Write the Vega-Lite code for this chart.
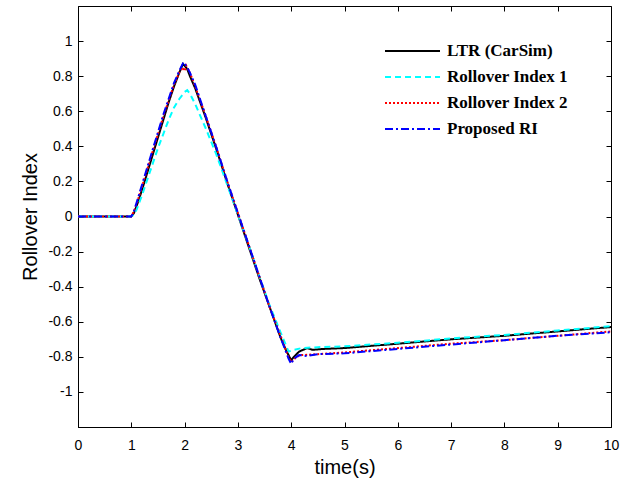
{
  "$schema": "https://vega.github.io/schema/vega-lite/v6.json",
  "autosize": "none",
  "width": 533,
  "height": 421,
  "padding": {"left": 78, "top": 6, "right": 11, "bottom": 55},
  "config": {
    "view": {"stroke": "black", "strokeWidth": 1},
    "axis": {"grid": false, "domainColor": "black", "tickColor": "black", "labelColor": "black", "titleColor": "black", "labelFont": "Liberation Sans", "titleFont": "Liberation Sans", "labelFontSize": 14, "titleFontSize": 20, "titleFontWeight": "normal", "tickSize": -5, "labelFlush": false}
  },
  "data": {"values": [
    {"s":"LTR (CarSim)","t":0,"v":0},{"s":"LTR (CarSim)","t":0.5,"v":0},{"s":"LTR (CarSim)","t":1.0,"v":0},{"s":"LTR (CarSim)","t":1.05,"v":0.02},{"s":"LTR (CarSim)","t":1.1,"v":0.06},{"s":"LTR (CarSim)","t":1.2,"v":0.15},{"s":"LTR (CarSim)","t":1.3,"v":0.25},{"s":"LTR (CarSim)","t":1.4,"v":0.35},{"s":"LTR (CarSim)","t":1.5,"v":0.45},{"s":"LTR (CarSim)","t":1.6,"v":0.55},{"s":"LTR (CarSim)","t":1.7,"v":0.65},{"s":"LTR (CarSim)","t":1.8,"v":0.74},{"s":"LTR (CarSim)","t":1.9,"v":0.82},{"s":"LTR (CarSim)","t":1.97,"v":0.87},{"s":"LTR (CarSim)","t":2.0,"v":0.86},{"s":"LTR (CarSim)","t":2.05,"v":0.84},{"s":"LTR (CarSim)","t":2.1,"v":0.8},{"s":"LTR (CarSim)","t":2.2,"v":0.73},{"s":"LTR (CarSim)","t":2.4,"v":0.56},{"s":"LTR (CarSim)","t":2.6,"v":0.38},{"s":"LTR (CarSim)","t":2.8,"v":0.19},{"s":"LTR (CarSim)","t":3.0,"v":0.01},{"s":"LTR (CarSim)","t":3.2,"v":-0.17},{"s":"LTR (CarSim)","t":3.4,"v":-0.35},{"s":"LTR (CarSim)","t":3.6,"v":-0.52},{"s":"LTR (CarSim)","t":3.8,"v":-0.69},{"s":"LTR (CarSim)","t":3.9,"v":-0.76},{"s":"LTR (CarSim)","t":4.0,"v":-0.82},{"s":"LTR (CarSim)","t":4.05,"v":-0.8},{"s":"LTR (CarSim)","t":4.15,"v":-0.77},{"s":"LTR (CarSim)","t":4.3,"v":-0.75},{"s":"LTR (CarSim)","t":4.4,"v":-0.76},{"s":"LTR (CarSim)","t":4.6,"v":-0.755},{"s":"LTR (CarSim)","t":5.0,"v":-0.75},{"s":"LTR (CarSim)","t":6.0,"v":-0.725},{"s":"LTR (CarSim)","t":7.0,"v":-0.7},{"s":"LTR (CarSim)","t":8.0,"v":-0.68},{"s":"LTR (CarSim)","t":9.0,"v":-0.655},{"s":"LTR (CarSim)","t":10.0,"v":-0.63},
    {"s":"Rollover Index 1","t":0,"v":0},{"s":"Rollover Index 1","t":1.0,"v":0},{"s":"Rollover Index 1","t":1.05,"v":0.01},{"s":"Rollover Index 1","t":1.1,"v":0.04},{"s":"Rollover Index 1","t":1.2,"v":0.12},{"s":"Rollover Index 1","t":1.3,"v":0.21},{"s":"Rollover Index 1","t":1.4,"v":0.3},{"s":"Rollover Index 1","t":1.5,"v":0.39},{"s":"Rollover Index 1","t":1.6,"v":0.47},{"s":"Rollover Index 1","t":1.7,"v":0.55},{"s":"Rollover Index 1","t":1.8,"v":0.62},{"s":"Rollover Index 1","t":1.9,"v":0.67},{"s":"Rollover Index 1","t":2.0,"v":0.71},{"s":"Rollover Index 1","t":2.05,"v":0.72},{"s":"Rollover Index 1","t":2.1,"v":0.7},{"s":"Rollover Index 1","t":2.2,"v":0.64},{"s":"Rollover Index 1","t":2.4,"v":0.5},{"s":"Rollover Index 1","t":2.6,"v":0.35},{"s":"Rollover Index 1","t":2.8,"v":0.18},{"s":"Rollover Index 1","t":3.0,"v":0.01},{"s":"Rollover Index 1","t":3.2,"v":-0.16},{"s":"Rollover Index 1","t":3.4,"v":-0.34},{"s":"Rollover Index 1","t":3.6,"v":-0.51},{"s":"Rollover Index 1","t":3.8,"v":-0.66},{"s":"Rollover Index 1","t":3.95,"v":-0.77},{"s":"Rollover Index 1","t":4.05,"v":-0.76},{"s":"Rollover Index 1","t":4.2,"v":-0.75},{"s":"Rollover Index 1","t":4.5,"v":-0.745},{"s":"Rollover Index 1","t":5.0,"v":-0.74},{"s":"Rollover Index 1","t":6.0,"v":-0.72},{"s":"Rollover Index 1","t":7.0,"v":-0.695},{"s":"Rollover Index 1","t":8.0,"v":-0.675},{"s":"Rollover Index 1","t":9.0,"v":-0.65},{"s":"Rollover Index 1","t":10.0,"v":-0.625},
    {"s":"Rollover Index 2","t":0,"v":0},{"s":"Rollover Index 2","t":1.0,"v":0},{"s":"Rollover Index 2","t":1.05,"v":0.03},{"s":"Rollover Index 2","t":1.1,"v":0.07},{"s":"Rollover Index 2","t":1.2,"v":0.17},{"s":"Rollover Index 2","t":1.3,"v":0.27},{"s":"Rollover Index 2","t":1.4,"v":0.37},{"s":"Rollover Index 2","t":1.5,"v":0.47},{"s":"Rollover Index 2","t":1.6,"v":0.57},{"s":"Rollover Index 2","t":1.7,"v":0.66},{"s":"Rollover Index 2","t":1.8,"v":0.75},{"s":"Rollover Index 2","t":1.9,"v":0.82},{"s":"Rollover Index 2","t":1.95,"v":0.85},{"s":"Rollover Index 2","t":2.0,"v":0.83},{"s":"Rollover Index 2","t":2.03,"v":0.86},{"s":"Rollover Index 2","t":2.1,"v":0.82},{"s":"Rollover Index 2","t":2.2,"v":0.74},{"s":"Rollover Index 2","t":2.4,"v":0.57},{"s":"Rollover Index 2","t":2.6,"v":0.39},{"s":"Rollover Index 2","t":2.8,"v":0.2},{"s":"Rollover Index 2","t":3.0,"v":0.02},{"s":"Rollover Index 2","t":3.2,"v":-0.16},{"s":"Rollover Index 2","t":3.4,"v":-0.34},{"s":"Rollover Index 2","t":3.6,"v":-0.52},{"s":"Rollover Index 2","t":3.8,"v":-0.68},{"s":"Rollover Index 2","t":3.95,"v":-0.8},{"s":"Rollover Index 2","t":4.0,"v":-0.83},{"s":"Rollover Index 2","t":4.1,"v":-0.8},{"s":"Rollover Index 2","t":4.2,"v":-0.79},{"s":"Rollover Index 2","t":4.5,"v":-0.785},{"s":"Rollover Index 2","t":5.0,"v":-0.775},{"s":"Rollover Index 2","t":6.0,"v":-0.75},{"s":"Rollover Index 2","t":7.0,"v":-0.725},{"s":"Rollover Index 2","t":8.0,"v":-0.705},{"s":"Rollover Index 2","t":9.0,"v":-0.68},{"s":"Rollover Index 2","t":10.0,"v":-0.655},
    {"s":"Proposed RI","t":0,"v":0},{"s":"Proposed RI","t":1.0,"v":0},{"s":"Proposed RI","t":1.05,"v":0.03},{"s":"Proposed RI","t":1.1,"v":0.08},{"s":"Proposed RI","t":1.2,"v":0.18},{"s":"Proposed RI","t":1.3,"v":0.28},{"s":"Proposed RI","t":1.4,"v":0.38},{"s":"Proposed RI","t":1.5,"v":0.48},{"s":"Proposed RI","t":1.6,"v":0.58},{"s":"Proposed RI","t":1.7,"v":0.67},{"s":"Proposed RI","t":1.8,"v":0.76},{"s":"Proposed RI","t":1.9,"v":0.83},{"s":"Proposed RI","t":1.98,"v":0.88},{"s":"Proposed RI","t":2.05,"v":0.85},{"s":"Proposed RI","t":2.1,"v":0.82},{"s":"Proposed RI","t":2.2,"v":0.75},{"s":"Proposed RI","t":2.4,"v":0.57},{"s":"Proposed RI","t":2.6,"v":0.39},{"s":"Proposed RI","t":2.8,"v":0.2},{"s":"Proposed RI","t":3.0,"v":0.02},{"s":"Proposed RI","t":3.2,"v":-0.16},{"s":"Proposed RI","t":3.4,"v":-0.34},{"s":"Proposed RI","t":3.6,"v":-0.52},{"s":"Proposed RI","t":3.8,"v":-0.69},{"s":"Proposed RI","t":3.95,"v":-0.81},{"s":"Proposed RI","t":4.0,"v":-0.84},{"s":"Proposed RI","t":4.05,"v":-0.81},{"s":"Proposed RI","t":4.15,"v":-0.79},{"s":"Proposed RI","t":4.3,"v":-0.795},{"s":"Proposed RI","t":4.5,"v":-0.785},{"s":"Proposed RI","t":5.0,"v":-0.78},{"s":"Proposed RI","t":6.0,"v":-0.755},{"s":"Proposed RI","t":7.0,"v":-0.73},{"s":"Proposed RI","t":8.0,"v":-0.705},{"s":"Proposed RI","t":9.0,"v":-0.68},{"s":"Proposed RI","t":10.0,"v":-0.66}
  ]},
  "layer": [
    {
      "mark": {"type": "line", "strokeWidth": 2},
      "encoding": {
        "x": {"field": "t", "type": "quantitative", "scale": {"domain": [0, 10], "nice": false}, "axis": {"values": [0,1,2,3,4,5,6,7,8,9,10], "title": "time(s)", "labelPadding": 16, "titlePadding": 5}},
        "y": {"field": "v", "type": "quantitative", "scale": {"domain": [-1.2, 1.2], "nice": false}, "axis": {"values": [-1,-0.8,-0.6,-0.4,-0.2,0,0.2,0.4,0.6,0.8,1], "labelExpr": "'' + datum.value", "title": "Rollover Index", "labelPadding": 11, "titlePadding": 7}},
        "color": {"field": "s", "type": "nominal", "sort": ["LTR (CarSim)", "Rollover Index 1", "Rollover Index 2", "Proposed RI"], "scale": {"domain": ["LTR (CarSim)", "Rollover Index 1", "Rollover Index 2", "Proposed RI"], "range": ["#000000", "#00ffff", "#ff0000", "#0000ff"]},
          "legend": {"title": null, "orient": "none", "legendX": 306, "legendY": 32, "padding": 0, "symbolType": "stroke", "symbolSize": 3025, "symbolStrokeWidth": 2, "clipHeight": 26, "rowPadding": 0, "labelFont": "Liberation Serif", "labelFontWeight": "bold", "labelFontSize": 17, "labelColor": "black", "labelOffset": 6}},
        "strokeDash": {"field": "s", "type": "nominal", "sort": ["LTR (CarSim)", "Rollover Index 1", "Rollover Index 2", "Proposed RI"], "scale": {"domain": ["LTR (CarSim)", "Rollover Index 1", "Rollover Index 2", "Proposed RI"], "range": [[1, 0], [6, 4], [2, 2], [8, 3, 2, 3]]}}
      }
    },
    {
      "mark": {"type": "line", "opacity": 0},
      "encoding": {
        "x": {"field": "t", "type": "quantitative", "scale": {"domain": [0, 10], "nice": false}, "axis": {"orient": "top", "values": [0,1,2,3,4,5,6,7,8,9,10], "labels": false, "title": null, "domain": false}},
        "y": {"field": "v", "type": "quantitative", "scale": {"domain": [-1.2, 1.2], "nice": false}, "axis": {"orient": "right", "values": [-1,-0.8,-0.6,-0.4,-0.2,0,0.2,0.4,0.6,0.8,1], "labels": false, "title": null, "domain": false}},
        "detail": {"field": "s", "type": "nominal"}
      }
    }
  ],
  "resolve": {"axis": {"x": "independent", "y": "independent"}}
}
